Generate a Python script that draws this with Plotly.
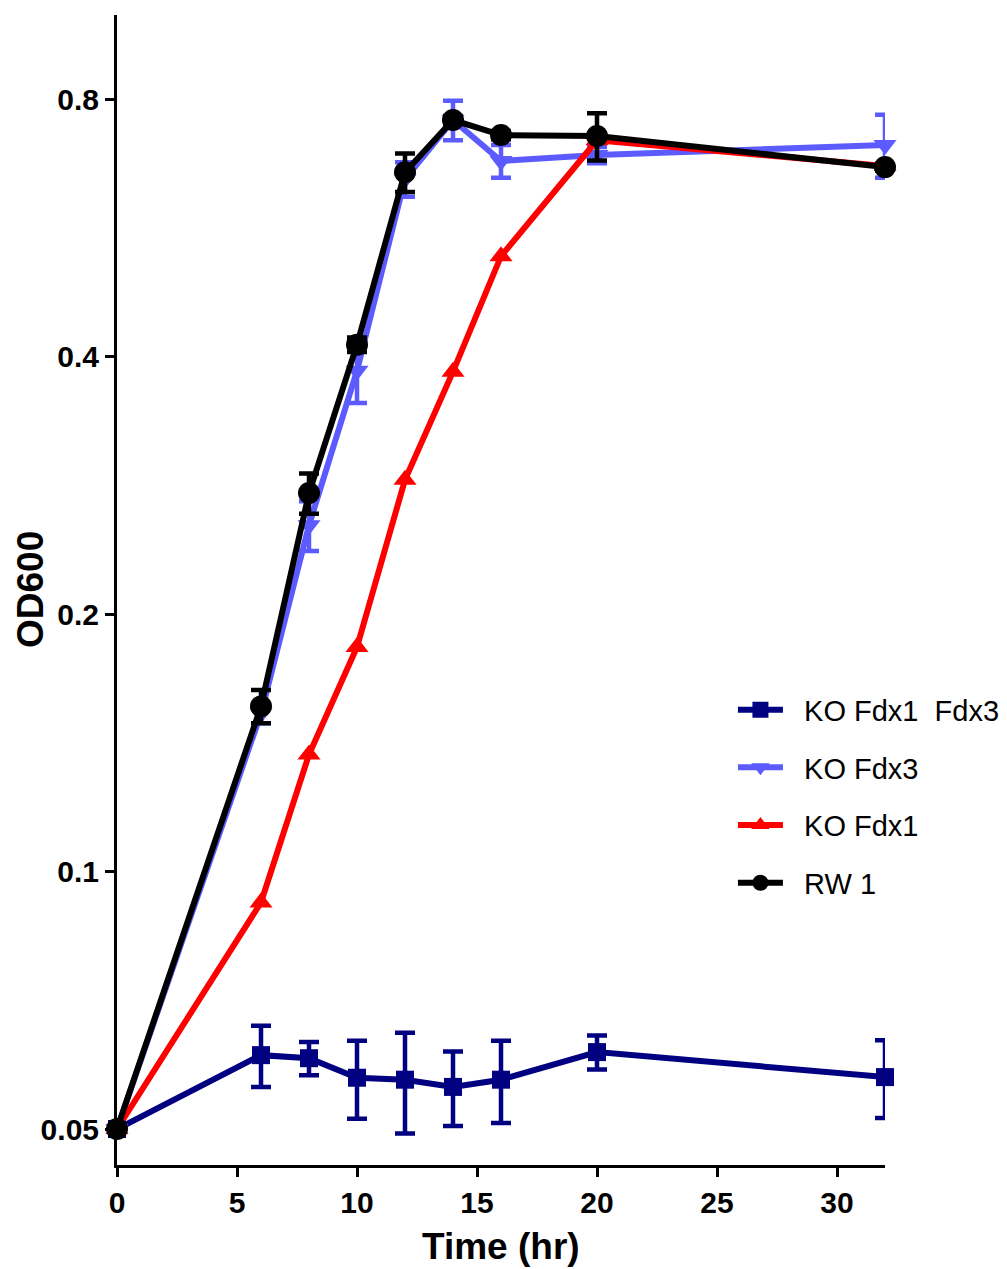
import plotly.graph_objects as go

time = [0, 6, 8, 10, 12, 14, 16, 20, 32]

ko_fdx1_fdx3 = [0.05, 0.061, 0.0605, 0.0574, 0.0571, 0.056, 0.0571, 0.0615, 0.0575]
ko_fdx1_fdx3_err = [None, 0.005, 0.0027, 0.006, 0.0077, 0.0056, 0.0063, 0.0028, 0.006]

ko_fdx3 = [0.05, 0.153, 0.254, 0.385, 0.645, 0.756, 0.677, 0.688, 0.707]
ko_fdx3_err = [None, 0.004, 0.017, 0.032, 0.03, 0.04, 0.03, 0.015, 0.06]

ko_fdx1 = [0.05, 0.092, 0.137, 0.183, 0.287, 0.384, 0.524, 0.716, 0.668]

rw1 = [0.05, 0.156, 0.277, 0.413, 0.657, 0.756, 0.726, 0.724, 0.666]
rw1_err = [None, 0.007, 0.015, 0.008, 0.034, 0.008, 0.008, 0.046, 0.006]

y_ticks = [0.05, 0.1, 0.2, 0.4, 0.8]
y_tick_labels = ["0.05", "0.1", "0.2", "0.4", "0.8"]
x_ticks = [0, 5, 10, 15, 20, 25, 30]

series = [
    ("  KO Fdx1  Fdx3", ko_fdx1_fdx3, ko_fdx1_fdx3_err, "#000080", "square", 18),
    ("  KO Fdx3", ko_fdx3, ko_fdx3_err, "#5B5BFF", "triangle-down", 20),
    ("  KO Fdx1", ko_fdx1, None, "#FF0000", "triangle-up", 20),
    ("  RW 1", rw1, rw1_err, "#000000", "circle", 22),
]

FONT = "Arial, 'Liberation Sans', sans-serif"

fig = go.Figure()
for i, (name, vals, err, color, sym, size) in enumerate(series):
    kw = {}
    if err is not None:
        kw["error_y"] = dict(type="data", array=err, symmetric=True, color=color,
                             thickness=4.5, width=10)
    fig.add_trace(go.Scatter(
        x=time, y=vals, name=name, mode="lines+markers",
        line=dict(color=color, width=6),
        marker=dict(symbol=sym, size=size, color=color),
        cliponaxis=False,
        legendgroup=f"g{i}",
        **kw,
    ))

fig.update_layout(
    width=1007, height=1269,
    margin=dict(l=117, r=122, t=15, b=104, autoexpand=False),
    paper_bgcolor="white", plot_bgcolor="white",
    font=dict(family=FONT, color="black"),
    showlegend=True,
    legend=dict(x=0.802, y=0.418, xanchor="left", yanchor="top",
                font=dict(size=29, family=FONT), bgcolor="rgba(0,0,0,0)",
                traceorder="grouped", tracegroupgap=17, itemwidth=45),
    xaxis=dict(range=[0, 32], tickmode="array", tickvals=x_ticks,
               showline=True, linecolor="black", linewidth=3,
               ticks="outside", ticklen=9, tickwidth=3, tickcolor="black",
               showgrid=False, zeroline=False, automargin=False,
               tickfont=dict(size=30, family=FONT, weight="bold")),
    yaxis=dict(type="log", range=[-1.3431, 0.0013], tickmode="array",
               tickvals=y_ticks, ticktext=y_tick_labels,
               showline=True, linecolor="black", linewidth=3,
               ticks="outside", ticklen=9, tickwidth=3, tickcolor="black",
               showgrid=False, zeroline=False, automargin=False,
               tickfont=dict(size=30, family=FONT, weight="bold")),
    annotations=[
        dict(text="<b>Time (hr)</b>", xref="paper", yref="paper",
             x=(501 - 117) / 768, y=1 - (1246 - 15) / 1150,
             xanchor="center", yanchor="middle", showarrow=False,
             font=dict(size=37, family=FONT)),
        dict(text="<b>OD600</b>", xref="paper", yref="paper",
             x=(30 - 117) / 768, y=1 - (590 - 15) / 1150,
             xanchor="center", yanchor="middle", showarrow=False, textangle=-90,
             font=dict(size=37, family=FONT)),
    ],
)

fig.write_html("out.html")
